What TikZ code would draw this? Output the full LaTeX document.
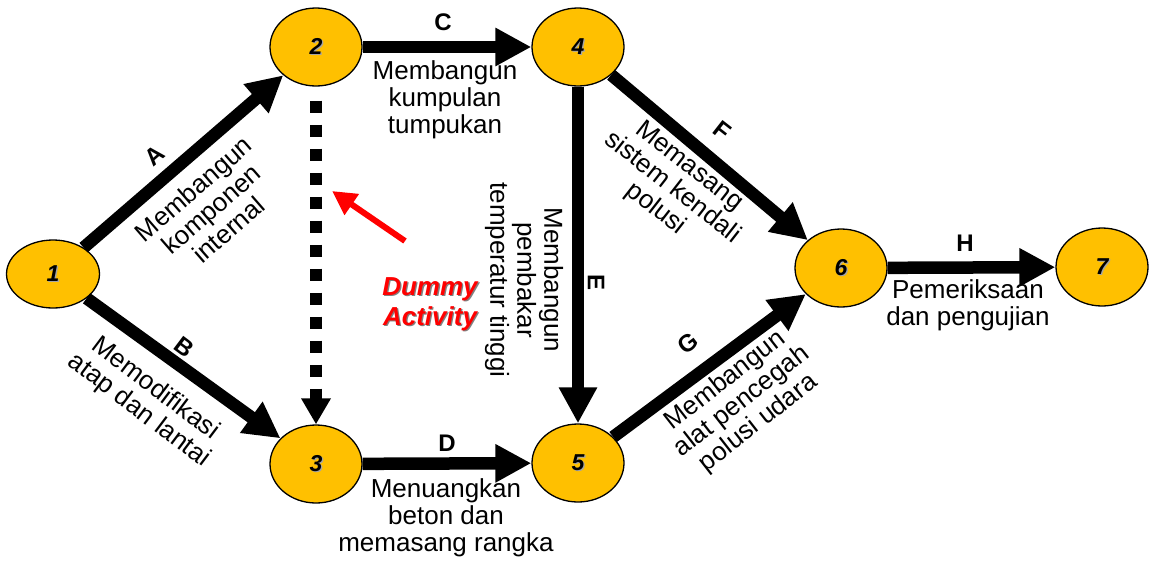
\documentclass[tikz,border=0pt]{standalone}
\usepackage{fontspec}
\setmainfont{Liberation Sans}
\usetikzlibrary{arrows.meta,shapes.geometric}
\definecolor{eventfill}{HTML}{FFC000}
\definecolor{dummyred}{HTML}{FF0000}
% text with a soft drop shadow: #1 shadow colour, #2 text
\newcommand\shadowed[2]{\makebox[0pt][l]{\hspace{1.3pt}\raisebox{-1.3pt}{\textcolor{#1}{#2}}}#2}
\begin{document}
\begin{tikzpicture}[x=1pt,y=-1pt,
  event/.style={ellipse,draw=black,line width=1.3pt,fill=eventfill,
    minimum width=92pt,minimum height=78pt,inner sep=0pt,
    font=\fontsize{23}{23}\selectfont\bfseries\itshape},
  activity/.style={line width=12.5pt,-{Triangle[length=36pt,width=36pt]}},
  dummyline/.style={line width=12pt,dash pattern=on 12pt off 12pt,
    -{Triangle[length=26pt,width=28pt]}},
  tag/.style={font=\fontsize{24}{24}\selectfont\bfseries,inner sep=0pt},
  desc/.style={font=\fontsize{26}{27}\selectfont,align=center,inner sep=0pt},
]
\useasboundingbox (0,0) rectangle (1150,560);

% events
\node[event,minimum width=93pt,minimum height=68pt] (n1) at (53,274) {\shadowed{black!35}{1}};
\node[event] (n2) at (316,47)  {\shadowed{black!35}{2}};
\node[event] (n3) at (316,464) {\shadowed{black!35}{3}};
\node[event] (n4) at (578,47)  {\shadowed{black!35}{4}};
\node[event] (n5) at (578,463) {\shadowed{black!35}{5}};
\node[event] (n6) at (841,268) {\shadowed{black!35}{6}};
\node[event] (n7) at (1102,267) {\shadowed{black!35}{7}};

% activities
\draw[activity] (n1) -- (n2);
\draw[activity] (n1) -- (n3);
\draw[activity] (n2) -- (n4);
\draw[activity] (n3) -- (n5);
\draw[activity] (n4) -- (n5);
\draw[activity] (n4) -- (n6);
\draw[activity] (n5) -- (n6);
\draw[activity] (n6) -- (n7);

% dummy activity
\draw[dummyline,shorten <=14pt] (n2.south) -- (n3.north);

% activity letters
\node[tag,rotate=41]  (tA) at (155,156) {A};
\node[tag,rotate=-37] (tB) at (184,347) {B};
\node[tag]            (tC) at (443,22)  {C};
\node[tag]            (tD) at (447,443) {D};
\node[tag,rotate=-90] (tE) at (596,282) {E};
\node[tag,rotate=-38] (tF) at (722,131) {F};
\node[tag,rotate=37]  (tG) at (688,343) {G};
\node[tag]            (tH) at (965,243) {H};

% activity descriptions
\node[desc,rotate=41]  (dA) at (211,209) {Membangun\\komponen\\internal};
\node[desc,rotate=-37] (dB) at (147,400) {Memodifikasi\\atap dan lantai};
\node[desc]            (dC) at (445,100) {Membangun\\kumpulan\\tumpukan};
\node[desc]            (dD) at (446,518) {Menuangkan\\beton dan\\memasang rangka};
\node[desc,rotate=-90] (dE) at (524,280) {Membangun\\pembakar\\temperatur tinggi};
\node[desc,rotate=-38] (dF) at (672,188) {Memasang\\sistem kendali\\polusi};
\node[desc,rotate=38]  (dG) at (742,402) {Membangun\\alat pencegah\\polusi udara};
\node[desc]            (dH) at (968,305) {Pemeriksaan\\dan pengujian};

% dummy activity callout
\node[font=\fontsize{26}{30}\selectfont\bfseries\itshape,text=dummyred,align=center,inner sep=0pt]
  (dummy) at (430,305) {\shadowed{black!50}{Dummy}\\\shadowed{black!50}{Activity}};
\coordinate (calltail) at (405,241);
\coordinate (calltip) at (332,191);
\draw[dummyred,line width=6pt,-{Triangle[length=24pt,width=24pt]}] (calltail) -- (calltip);
\end{tikzpicture}
\end{document}
